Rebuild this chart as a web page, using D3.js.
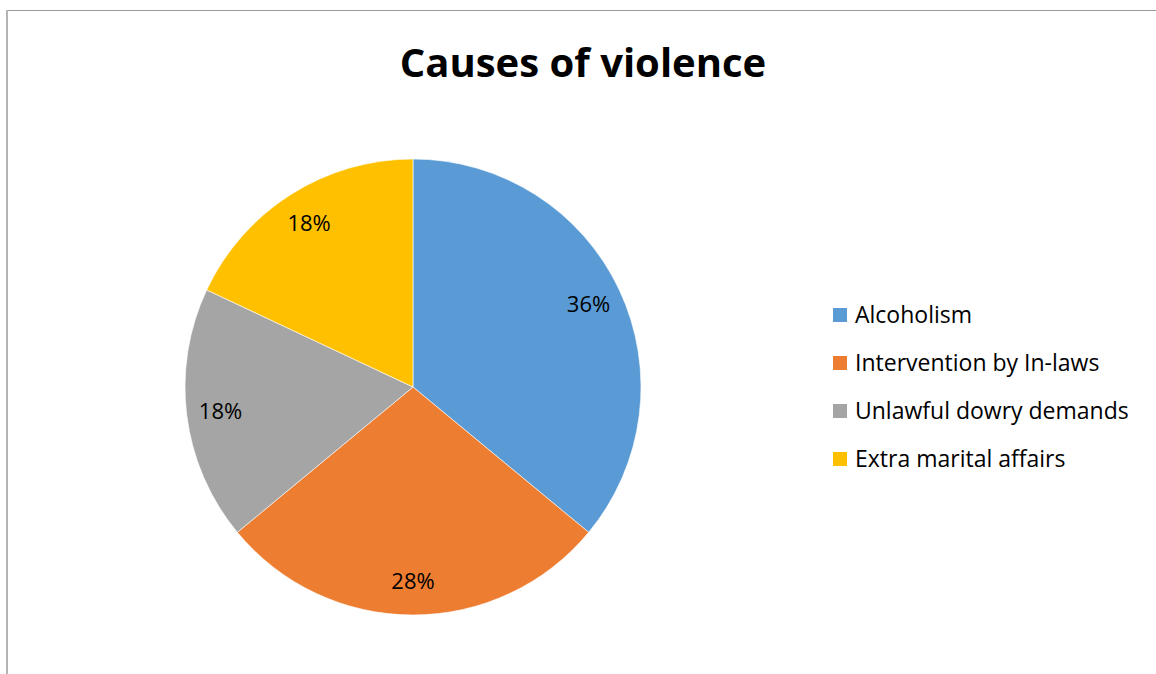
<!DOCTYPE html>
<html>
<head>
<meta charset="utf-8">
<script src="https://cdn.jsdelivr.net/npm/d3@7"></script>
<style>
  html, body { margin: 0; padding: 0; background: #fff; }
  svg { display: block; }
  text { font-family: "Open Sans", "Liberation Sans", sans-serif; }
</style>
</head>
<body>
<svg id="chart" width="1156" height="674"></svg>
<script>
// Causes of violence — share of responses
const categories = ["Alcoholism", "Intervention by In-laws", "Unlawful dowry demands", "Extra marital affairs"];
const shares = [36, 28, 18, 18];
const colors = ["#5B9BD5", "#ED7D31", "#A5A5A5", "#FFC000"];
const titleText = "Causes of violence";

const svg = d3.select("#chart");

// Frame edges
svg.append("line").attr("x1", 6).attr("x2", 1156).attr("y1", 10.5).attr("y2", 10.5)
  .attr("stroke", "#999").attr("stroke-width", 1);
svg.append("line").attr("x1", 7).attr("x2", 7).attr("y1", 10).attr("y2", 674)
  .attr("stroke", "#b3b3b3").attr("stroke-width", 2);

// Title
svg.append("text")
  .attr("x", 583).attr("y", 77)
  .attr("text-anchor", "middle")
  .attr("font-size", 40).attr("font-weight", "bold")
  .attr("fill", "#000")
  .text(titleText);

const cx = 413, cy = 387, R = 228;
const data = categories.map((c, i) => ({ name: c, value: shares[i], color: colors[i] }));

const pie = d3.pie().value(d => d.value).sort(null);
const arc = d3.arc().innerRadius(0).outerRadius(R);
const labelArc = d3.arc().innerRadius(194).outerRadius(194);

const g = svg.append("g").attr("transform", `translate(${cx},${cy})`);
const arcs = pie(data);

g.selectAll("path.slice").data(arcs).join("path")
  .attr("class", "slice")
  .attr("d", arc)
  .attr("fill", d => d.data.color)
  .attr("stroke", "#fff").attr("stroke-width", 0.6);

g.selectAll("text.pct").data(arcs).join("text")
  .attr("class", "pct")
  .attr("transform", d => `translate(${labelArc.centroid(d)})`)
  .attr("text-anchor", "middle")
  .attr("dy", "0.35em")
  .attr("font-size", 22)
  .attr("fill", "#000")
  .text(d => d.data.value + "%");

// Legend
const legend = svg.append("g").attr("transform", "translate(833,315)");
const rows = legend.selectAll("g").data(data).join("g")
  .attr("transform", (d, i) => `translate(0,${i * 48})`);
rows.append("rect").attr("x", 0).attr("y", -7).attr("width", 14).attr("height", 14)
  .attr("fill", d => d.color);
rows.append("text").attr("x", 22).attr("y", 0).attr("dy", "0.35em")
  .attr("font-size", 23).attr("fill", "#000")
  .text(d => d.name);
</script>
</body>
</html>
